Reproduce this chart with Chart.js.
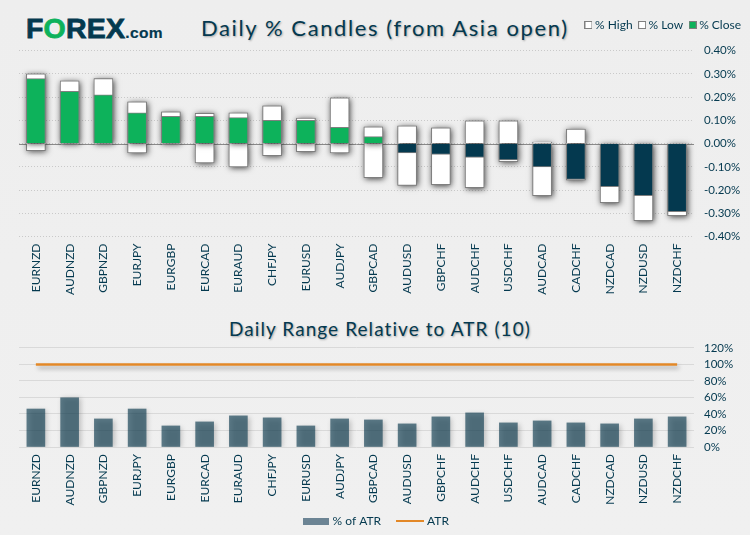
<!DOCTYPE html>
<html><head><meta charset="utf-8">
<style>
html,body{margin:0;padding:0;background:#efefef;width:750px;height:535px;overflow:hidden}
#wrap{position:relative;width:750px;height:535px;overflow:hidden;background:linear-gradient(#eeeeee,#f0f0f0)}
canvas{position:absolute;left:0}
.t{position:absolute;color:#04394f;font-family:Lato,sans-serif;white-space:nowrap;text-shadow:1px 1px 2px rgba(0,0,0,.3)}
#logo{position:absolute;left:26px;top:12px;font-family:"Liberation Sans",sans-serif;font-weight:bold;color:#04394f;font-size:28.5px;white-space:nowrap;letter-spacing:.2px;-webkit-text-stroke:.8px #04394f}
#logo b{color:#0db25b;-webkit-text-stroke:.8px #0db25b}
#logo span{font-size:15.5px;-webkit-text-stroke:.2px #04394f;letter-spacing:.4px}
</style></head><body>
<div id="wrap">
<div id="logo">F<b>O</b>REX<span>.com</span></div>
<div class="t" style="left:201px;top:14px;font-size:22px;letter-spacing:1.6px">Daily % Candles (from Asia open)</div>
<div class="t" style="left:229px;top:317px;font-size:19px;letter-spacing:1.07px">Daily Range Relative to ATR (10)</div>
<canvas id="c1" width="750" height="300" style="top:0;width:750px;height:300px"></canvas>
<canvas id="c2" width="750" height="206" style="top:331px;width:750px;height:206px"></canvas>
</div>
<script src="https://cdn.jsdelivr.net/npm/chart.js@4/dist/chart.umd.min.js"></script>
<script>
const pairsTop=["EURNZD","AUDNZD","GBPNZD","EURJPY","EURGBP","EURCAD","EURAUD","CHFJPY","EURUSD","AUDJPY","GBPCAD","AUDUSD","GBPCHF","AUDCHF","USDCHF","AUDCAD","CADCHF","NZDCAD","NZDUSD","NZDCHF"];
const highPct=[0.30,0.27,0.28,0.18,0.137,0.13,0.132,0.163,0.11,0.197,0.072,0.076,0.068,0.098,0.098,0.007,0.063,0,0,0];
const lowPct=[-0.03,-0.003,-0.003,-0.04,-0.003,-0.083,-0.10,-0.052,-0.035,-0.04,-0.147,-0.18,-0.177,-0.19,-0.078,-0.224,-0.157,-0.254,-0.332,-0.31];
const closePct=[0.28,0.225,0.21,0.132,0.117,0.117,0.112,0.10,0.10,0.07,0.03,-0.04,-0.047,-0.06,-0.07,-0.10,-0.154,-0.185,-0.224,-0.293];
const pctOfAtr=[46,59.6,34,46,25.5,30.4,37.7,35.3,25.5,34,32.8,28,36.5,41.3,29.2,31.6,29.2,28,34,36.5];
const atrLine=[100,100,100,100,100,100,100,100,100,100,100,100,100,100,100,100,100,100,100,100];

const NAVY='#04394f',GREEN='#0db25b',GREY='#7f7f7f',FONT='Lato, sans-serif',NARROW='"Liberation Sans Narrow", Lato, sans-serif';
function swatch(w,h,fill,stroke){
  const c=document.createElement('canvas');c.width=w;c.height=h;
  const x=c.getContext('2d');x.fillStyle=fill;x.fillRect(0,0,w,h);
  if(stroke){x.strokeStyle=stroke;x.lineWidth=1;x.strokeRect(.5,.5,w-1,h-1);}
  return c;
}
/* soft drop shadow: bordered bars clip their own shadow, so they get an underlay from their elements */
const shadow={id:'shadow',
  beforeDatasetDraw(ch,a){
    const d=ch.data.datasets[a.index],s=d.shadow;if(!s)return;const c=ch.ctx;c.save();
    c.shadowColor=s[0];c.shadowBlur=s[1];c.shadowOffsetX=s[2];c.shadowOffsetY=s[3];
    if(d.borderWidth&&a.meta.type==='bar'){
      c.fillStyle='#8a8a8a';
      a.meta.data.forEach(b=>{const p=b.getProps(['x','y','base','width'],true);
        c.fillRect(p.x-p.width/2,Math.min(p.y,p.base),p.width,Math.abs(p.y-p.base));});
      c.restore();
    }
  },
  afterDatasetDraw(ch,a){const d=ch.data.datasets[a.index];if(d.shadow&&!(d.borderWidth&&a.meta.type==='bar'))ch.ctx.restore();}};
const zeroLine={id:'zeroLine',beforeDatasetsDraw(ch){const y=Math.round(ch.scales.y.getPixelForValue(0))+.5,c=ch.ctx,a=ch.chartArea;
  c.save();c.strokeStyle='#8c8c8c';c.lineWidth=1;c.beginPath();c.moveTo(a.left,y);c.lineTo(a.right,y);c.stroke();c.restore();}};
/* lets the long rotated labels run past the axis box, and centres the legend as in the reference */
const lowerLayout={id:'lowerLayout',afterLayout(ch){ch.scales.x.bottom=ch.height;ch.legend.left=3.5;}};
const barShadow=['rgba(0,0,0,.75)',6,1,1];

new Chart(document.getElementById('c1'),{
  type:'bar',
  data:{labels:pairsTop,datasets:[
    {label:'% High',data:highPct,backgroundColor:'#fff',borderColor:GREY,borderWidth:1,barThickness:19,grouped:false,order:1,shadow:barShadow},
    {label:'% Low',data:lowPct,backgroundColor:'#fff',borderColor:GREY,borderWidth:1,barThickness:19,grouped:false,order:2,shadow:barShadow},
    {label:'% Close',data:closePct,backgroundColor:closePct.map(v=>v>=0?GREEN:NAVY),borderColor:GREY,borderWidth:1,barThickness:19,grouped:false,order:0}
  ]},
  plugins:[shadow,zeroLine],
  options:{responsive:false,animation:false,
    layout:{padding:{left:19,top:10,right:0,bottom:0}},
    plugins:{title:{display:false},tooltip:{enabled:false},
      legend:{position:'top',align:'end',
        labels:{color:NAVY,font:{family:FONT,size:12},usePointStyle:true,pointStyleWidth:1,padding:9,
          generateLabels(ch){return ch.data.datasets.map((d,i)=>({text:d.label,datasetIndex:i,fontColor:NAVY,
            pointStyle:i===2?swatch(8,8,GREEN,GREY):swatch(8,8,'#fff',GREY),fillStyle:'#fff',strokeStyle:GREY,lineWidth:0}));}
        }}},
    scales:{
      xTop:{position:'top',grid:{display:false,drawTicks:false},border:{display:false},ticks:{display:false},afterFit(s){s.height=9.7;}},
      x:{offset:true,grid:{display:false,drawTicks:false},border:{display:false},afterFit(s){s.height=63.5;},
        ticks:{autoSkip:false,minRotation:90,maxRotation:90,padding:7,color:NAVY,font:{family:NARROW,size:12}}},
      y:{position:'right',min:-0.4,max:0.4,
        afterFit(s){s.width=56;},
        grid:{color:'#c9c9c9',lineWidth:1,drawTicks:false},border:{display:false,dash:[1,2]},
        ticks:{stepSize:0.1,autoSkip:false,padding:10,color:NAVY,font:{family:FONT,size:11.5},callback:v=>v.toFixed(2)+'%'}}
    }}
});

new Chart(document.getElementById('c2'),{
  data:{labels:pairsTop,datasets:[
    {type:'bar',label:'% of ATR',data:pctOfAtr,backgroundColor:'rgba(22,66,86,.68)',barThickness:18,order:1,shadow:['rgba(0,0,0,.3)',5,2,1]},
    {type:'line',label:'ATR',data:atrLine,borderColor:'#e38827',borderWidth:2.5,pointRadius:0,order:0,shadow:['rgba(0,0,0,.3)',4,2,3]}
  ]},
  plugins:[shadow,lowerLayout],
  options:{responsive:false,animation:false,
    layout:{padding:{left:19,top:0.6,right:0,bottom:0}},
    plugins:{title:{display:false},tooltip:{enabled:false},
      legend:{position:'bottom',align:'center',
        labels:{color:NAVY,font:{family:FONT,size:12},usePointStyle:true,pointStyleWidth:22,padding:18,
          generateLabels(ch){return ch.data.datasets.map((d,i)=>({text:d.label,datasetIndex:i,fontColor:NAVY,
            pointStyle:i===0?swatch(26,7,'#6c8494'):swatch(28,2,'#e38827'),fillStyle:'#fff',strokeStyle:GREY,lineWidth:0}));}
        }}},
    scales:{
      x:{offset:true,grid:{display:false,drawTicks:false},border:{display:false},afterFit(s){s.height=50;},
        ticks:{autoSkip:false,minRotation:90,maxRotation:90,padding:7,color:NAVY,font:{family:NARROW,size:12}}},
      y:{position:'right',min:0,max:120,
        afterFit(s){s.width=56;},
        grid:{color:'#d9d9d9',lineWidth:1,drawTicks:false},border:{display:false},
        ticks:{stepSize:20,autoSkip:false,padding:10,color:NAVY,font:{family:FONT,size:11.5},callback:v=>v+'%'}}
    }}
});
</script>
</body></html>
